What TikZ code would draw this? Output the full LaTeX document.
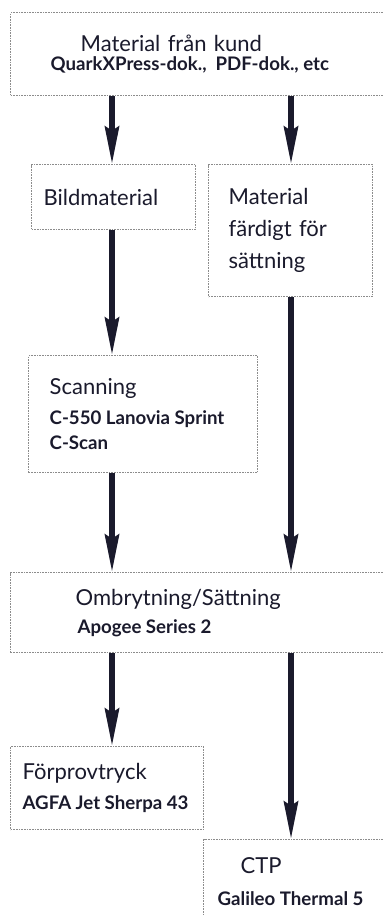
\documentclass[tikz,border=0pt]{standalone}
\usepackage{fontspec}
\setmainfont{Lato}
\usepackage{tikz}
\usetikzlibrary{arrows.meta,positioning}
\usepackage{xcolor}
\definecolor{inkblue}{HTML}{1A1A2C}
\definecolor{framegray}{HTML}{8C8C8C}
\newdimen\pix \pix=0.75pt
\newcommand{\boxhead}[1]{\mbox{\fontsize{16.5}{24}\selectfont #1}}
\newcommand{\boxsub}[1]{\mbox{\fontsize{14}{18}\selectfont\bfseries
  \frenchspacing\spaceskip=0.24em #1}}

\begin{document}
\begin{tikzpicture}[
    x=0.75pt, y=-0.75pt,
    >={Stealth[length=28pt, width=10.5pt, inset=3pt]},
    stagebox/.style={
      rectangle, draw=framegray, line width=1pt,
      dash pattern=on 1.2pt off 0.8pt, fill=white,
      anchor=north west, inner sep=0pt, align=left,
      font=\fontsize{16.5}{24}\selectfont, text=inkblue
    },
    arr/.style={->, line width=5.5\pix, inkblue}
  ]
  \useasboundingbox (0,0) rectangle (382,916);

  % Stages
  \node[stagebox, minimum width=390\pix, minimum height=83\pix,
        text width=310\pix] (kund) at (10,12)
    {\hspace*{30\pix}\boxhead{Material från kund}\\[-9.75pt]
     \boxsub{QuarkXPress-dok.,\ \ PDF-dok., etc}};
  \node[stagebox, minimum width=164\pix, minimum height=65\pix,
        text width=140\pix] (bild) at (31,164)
    {\boxhead{Bildmaterial}};
  \node[stagebox, minimum width=164\pix, minimum height=132\pix,
        text width=124\pix] (klar) at (208,164)
    {\boxhead{Material}\\
     \boxhead{färdigt för}\\
     \boxhead{sättning}};
  \node[stagebox, minimum width=229\pix, minimum height=117\pix,
        text width=187\pix] (scan) at (28,355)
    {\boxhead{Scanning}\\[-1.5pt]
     \boxsub{C-550 Lanovia Sprint}\\[-5.25pt]
     \boxsub{C-Scan}};
  \node[stagebox, minimum width=390\pix, minimum height=80\pix,
        text width=260\pix] (ombr) at (10,572)
    {\boxhead{Ombrytning/Sättning}\\[-3pt]
     \hspace*{2\pix}\boxsub{Apogee Series 2}};
  \node[stagebox, minimum width=193\pix, minimum height=83\pix,
        text width=169\pix] (prov) at (10,746)
    {\boxhead{Förprovtryck}\\[-1.5pt]
     \boxsub{AGFA Jet Sherpa 43}};
  \node[stagebox, minimum width=217\pix, minimum height=84\pix,
        text width=189\pix] (ctp) at (203,839)
    {\hspace*{23\pix}\boxhead{CTP}\\
     \boxsub{Galileo Thermal 5}};

  % Arrow columns
  \coordinate (lcol) at (112,0);
  \coordinate (rcol) at (291,0);

  % Arrows
  \draw[arr] (kund.south -| lcol) -- (bild.north -| lcol);
  \draw[arr] (kund.south -| rcol) -- (klar.north -| rcol);
  \draw[arr] (bild.south -| lcol) -- (scan.north -| lcol);
  \draw[arr] (scan.south -| lcol) -- (ombr.north -| lcol);
  \draw[arr] (klar.south -| rcol) -- (ombr.north -| rcol);
  \draw[arr] (ombr.south -| lcol) -- (prov.north -| lcol);
  \draw[arr] (ombr.south -| rcol) -- (ctp.north -| rcol);
\end{tikzpicture}
\end{document}
